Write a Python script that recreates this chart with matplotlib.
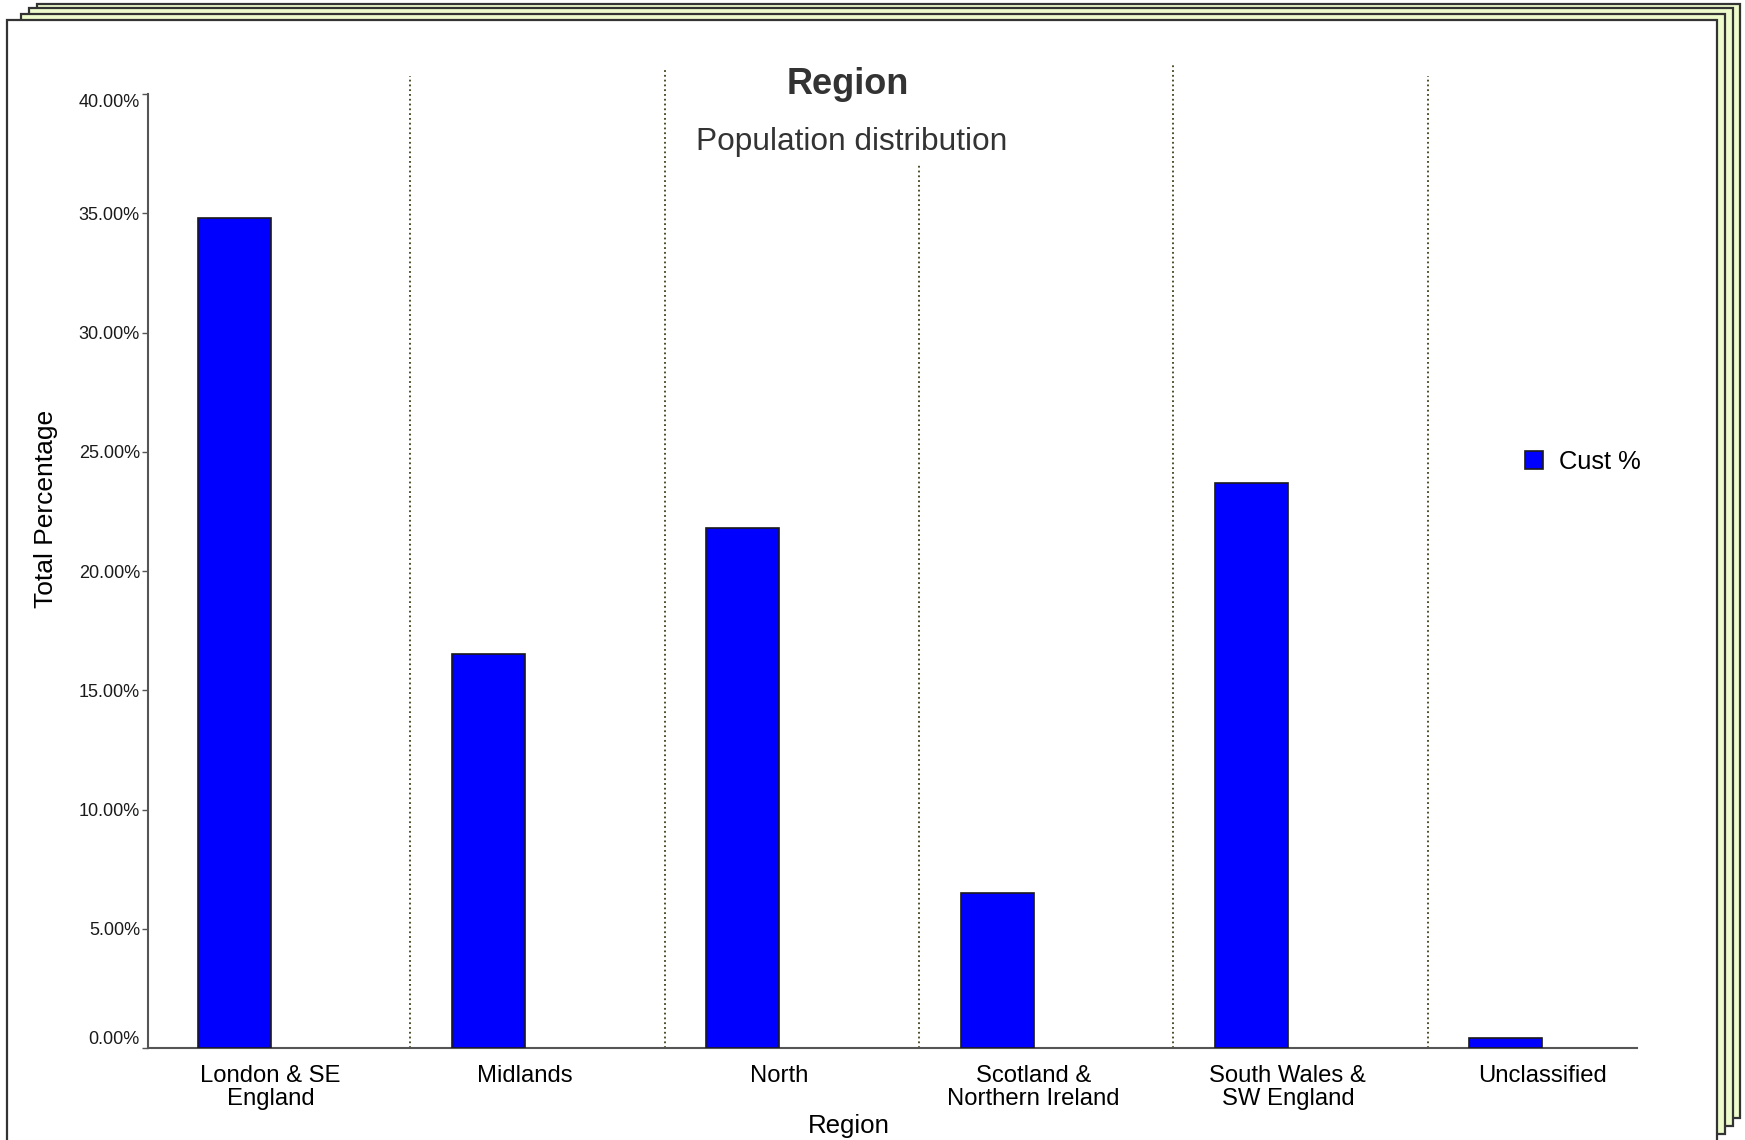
import matplotlib.pyplot as plt
from matplotlib.patches import Rectangle

# data
regions = [
    "London & SE\nEngland",
    "Midlands",
    "North",
    "Scotland &\nNorthern Ireland",
    "South Wales &\nSW England",
    "Unclassified",
]
cust_pct = [34.8, 16.5, 21.8, 6.5, 23.7, 0.4]
y_ticks = [0, 5, 10, 15, 20, 25, 30, 35, 40]

# tops of the dotted separators, in axes fraction
sep_tops = [1.019, 1.026, 0.926, 1.030, 1.019]

W, H = 1745, 1140
plt.rcParams["font.family"] = ["Liberation Sans", "DejaVu Sans"]
fig = plt.figure(figsize=(W / 100, H / 100), dpi=100)


def page(x0, y0, x1, y1, fc):
    # box given in pixels from the top-left corner
    r = Rectangle(
        (x0 / W, 1 - y1 / H), (x1 - x0) / W, (y1 - y0) / H,
        transform=fig.transFigure, facecolor=fc,
        edgecolor="#333333", lw=1.6, zorder=-10,
    )
    fig.add_artist(r)


page(37, 4, 1740, 1118, "#eefccc")
page(29, 8, 1733, 1126, "#eefccc")
page(21, 14, 1725, 1134, "#eefccc")
page(7, 20, 1717, 1170, "white")

ax = fig.add_axes([148 / W, 1 - 1048 / H, (1637 - 148) / W, (1048 - 94) / H])
ax.patch.set_alpha(0)

x = list(range(len(regions)))
ax.bar(x, cust_pct, width=-0.287, align="edge", color="#0000ff",
       edgecolor="#1a1a1a", lw=1.2, label="Cust %", zorder=3)

for i, t in enumerate(sep_tops):
    ax.plot([i + 0.55, i + 0.55], [0, t], transform=ax.get_xaxis_transform(),
            ls=":", color="#40401a", lw=1.3, clip_on=False, zorder=2)

ax.set_xlim(-0.482, 5.373)
ax.set_ylim(0, 40)

for s in ["top", "right"]:
    ax.spines[s].set_visible(False)
for s in ["left", "bottom"]:
    ax.spines[s].set_color("#555555")
    ax.spines[s].set_linewidth(1.5)

ax.set_xticks(x)
ax.set_xticklabels(regions, fontsize=17.2, linespacing=1.1, color="black")
ax.tick_params(axis="x", length=0, pad=12)

ax.set_yticks(y_ticks)
ax.set_yticklabels(["%.2f%%" % v for v in y_ticks], fontsize=13, color="#1a1a1a")
ax.tick_params(axis="y", length=4.3, width=1, color="#555555", pad=1.5)
ylabs = ax.get_yticklabels()
ylabs[0].set_va("bottom")
ylabs[-1].set_va("top")

fig.text(848 / W, 1 - 94 / H, "Region", ha="center", va="baseline",
         fontsize=26, fontweight="bold", color="#333333")
fig.text(852 / W, 1 - 150 / H, "Population distribution", ha="center",
         va="baseline", fontsize=22.8, color="#333333")
fig.text(46 / W, 1 - 509 / H, "Total Percentage", rotation=90, ha="center",
         va="center", fontsize=19, color="black")
fig.text(849 / W, 1 - 1126 / H, "Region", ha="center", va="center",
         fontsize=18.6, color="black")

ax.legend(loc="center left", bbox_to_anchor=(1525 / W, 1 - 462 / H),
          bbox_transform=fig.transFigure, frameon=False, fontsize=18.4,
          handlelength=0.7, handleheight=0.7, handletextpad=0.63,
          borderpad=0, borderaxespad=0)

fig.savefig("out.png", dpi=100)
